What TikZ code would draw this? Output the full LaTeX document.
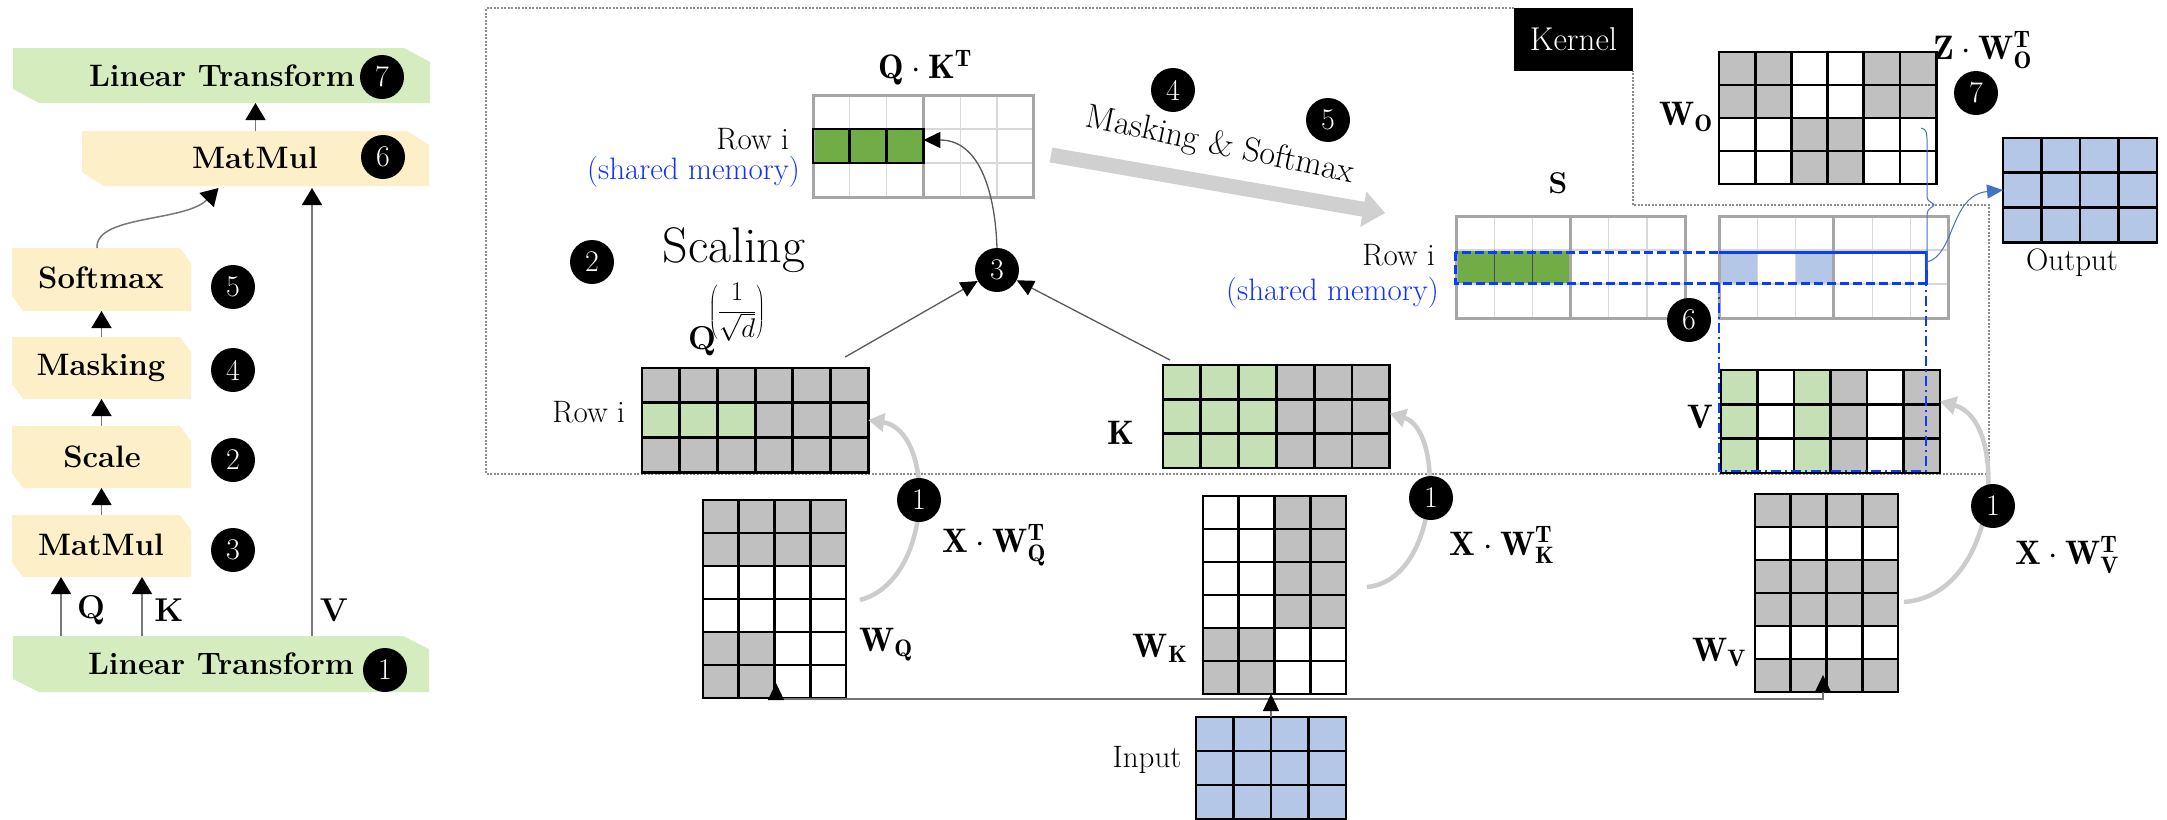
\RequirePackage{fix-cm}
\documentclass[tikz,border=0pt]{standalone}
\usepackage{fontspec}
\usetikzlibrary{arrows.meta,calc}

\definecolor{ltgreenbox}{RGB}{213,236,191}
\definecolor{creambox}{RGB}{253,239,200}
\definecolor{cG}{RGB}{192,192,192}
\definecolor{cW}{RGB}{255,255,255}
\definecolor{cL}{RGB}{197,224,180}
\definecolor{cD}{RGB}{112,173,71}
\definecolor{cB}{RGB}{180,199,231}
\definecolor{gridlight}{RGB}{217,217,217}
\definecolor{gridmid}{RGB}{166,166,166}
\definecolor{memblue}{RGB}{20,50,255}
\definecolor{dashblue}{RGB}{10,60,255}
\definecolor{linkblue}{RGB}{68,114,196}
\definecolor{bandgray}{RGB}{208,208,208}
\definecolor{arcgray}{RGB}{204,204,204}
\definecolor{kerngray}{RGB}{140,140,140}
\definecolor{flowgray}{RGB}{120,120,120}

% chamfered label box: name, x1, y1, x2, y2, fill, chamfer x, chamfer y
\newcommand{\chambox}[8]{%
  \fill[#6] (#2,#3) -- ({#4-#7},#3) -- (#4,{#3+#8}) -- (#4,#5) -- ({#2+#7},#5) -- (#2,{#5-#8}) -- cycle;
  \node[inner sep=0pt, outer sep=0pt, minimum width={(#4-#2)*1pt}, minimum height={(#5-#3)*1pt}]
    (#1) at ({(#2+#4)/2},{(#3+#5)/2}) {};
}

% cell grid: name, x0, y0, cell w, cell h, cols, rows, line style, cell colours row by row
\newcommand{\matgrid}[9]{%
  \node[inner sep=0pt, outer sep=0pt, anchor=north west,
        minimum width={#4*#6*1pt}, minimum height={#5*#7*1pt}] (#1) at (#2,#3) {};
  \foreach \rw [count=\ri] in {#9} {%
    \foreach \cl [count=\ci] in \rw {%
      \fill[\cl] ({#2+(\ci-1)*#4},{#3+(\ri-1)*#5}) rectangle ++(#4,#5);
    }%
  }%
  \foreach \k in {0,...,#6} \draw[#8] ({#2+\k*#4},#3) -- ++(0,{#7*#5});
  \foreach \k in {0,...,#7} \draw[#8] (#2,{#3+\k*#5}) -- ++({#6*#4},0);
}

\tikzset{
  txt/.style={font=\fontsize{31}{36}\selectfont, inner sep=0pt},
  btxt/.style={font=\fontsize{31}{36}\selectfont\bfseries, inner sep=0pt},
  mlab/.style={font=\fontsize{34}{40}\selectfont, inner sep=0pt},
  num/.style={circle, fill=black, text=white, minimum size=44pt, inner sep=0pt,
              font=\fontsize{30}{30}\selectfont},
  mline/.style={draw=black, line width=2.8pt, line cap=rect},
  lgrid/.style={draw=gridlight, line width=1.2pt},
  mgrid/.style={draw=gridmid, line width=3pt},
  flow/.style={draw=flowgray, line width=1.5pt, -{Triangle[length=17pt,width=20pt,color=black]}},
  conn/.style={draw=black!65, line width=1.3pt, -{Triangle[length=17pt,width=16pt,color=black]}},
  kern/.style={draw=kerngray, line width=1.3pt, dash pattern=on 2pt off 1.5pt},
  arc/.style={draw=arcgray, line width=4.5pt, -{Triangle[length=16pt,width=18pt]}},
}

\begin{document}
\begin{tikzpicture}[x=1pt,y=-1pt]
\useasboundingbox (0,0) rectangle (2167,819);
\fill[white] (0,0) rectangle (2167,819);

% ---------------- operator pipeline ----------------
\chambox{lt7}{13}{48}{430}{103}{ltgreenbox}{26}{14}
\chambox{mm6}{82}{131}{429}{186}{creambox}{22}{14}
\chambox{sm}{12}{248}{191}{311}{creambox}{11}{15}
\chambox{mk}{12}{337}{191}{399}{creambox}{11}{15}
\chambox{sc}{12}{426}{191}{488}{creambox}{11}{15}
\chambox{mm3}{12}{515}{191}{577}{creambox}{11}{15}
\chambox{lt1}{13}{636}{429}{692}{ltgreenbox}{26}{13}

\node[btxt] at (222,76) {Linear Transform};
\node[num] at (382,77) {7};
\node[btxt] at (255,158) {MatMul};
\node[num] at (383,157) {6};
\node[btxt] at (101,278) {Softmax};
\node[num] at (233,287) {5};
\node[btxt] at (101,368) {Masking};
\node[num] at (233,370) {4};
\node[btxt] at (102,457) {Scale};
\node[num] at (233,460) {2};
\node[btxt] at (101,545) {MatMul};
\node[num] at (233,550) {3};
\node[btxt] at (221,664) {Linear Transform};
\node[num] at (385,670) {1};

\draw[flow] (mm6.north) -- (mm6.north |- lt7.south);
\draw[flow] (sm.north -| 97,0) .. controls (95,215) and (185,222) .. ($(mm6.south)+(-37,2)$);
\draw[flow] (mk.north) -- (sm.south);
\draw[flow] (sc.north) -- (mk.south);
\draw[flow] (mm3.north) -- (sc.south);
\coordinate (qin) at ($(mm3.south)+(-40.5,0)$);
\coordinate (kin) at ($(mm3.south)+(40.5,0)$);
\coordinate (vin) at ($(mm6.south)+(56.5,2)$);
\draw[flow] (qin |- lt1.north) -- (qin);
\draw[flow] (kin |- lt1.north) -- (kin);
\draw[flow] (vin |- lt1.north) -- (vin);
\node[btxt, font=\fontsize{33}{38}\selectfont\bfseries] at (91,610) {Q};
\node[btxt, font=\fontsize{33}{38}\selectfont\bfseries] at (169,610) {K};
\node[btxt, font=\fontsize{33}{38}\selectfont\bfseries] at (334,610) {V};

% ---------------- kernel region ----------------
\draw[kern] (1514,8) -- (486,8) -- (486,474) -- (1989,474) -- (1989,205) -- (1633,205) -- (1633,71);
\node[fill=black, text=white, minimum width=119pt, minimum height=63pt, inner sep=0pt,
      font=\fontsize{33}{38}\selectfont] (kernel) at (1573.5,39.5) {Kernel};

% Q . K^T tile
\matgrid{qk}{813}{95}{36.8}{34}{6}{3}{lgrid}{{cW,cW,cW,cW,cW,cW},{cD,cD,cD,cW,cW,cW},{cW,cW,cW,cW,cW,cW}}
\draw[mgrid] (qk.north west) rectangle (qk.south east);
\draw[mgrid] (qk.north) -- (qk.south);
\draw[mline] (813,129) rectangle (923.4,163);
\draw[mline] (849.8,129) -- (849.8,163);
\draw[mline] (886.6,129) -- (886.6,163);
\coordinate (qkend) at (923.4,140);
\node[mlab] at (925,68) {$\mathbf{Q}\cdot\mathbf{K}^{\mathbf{T}}$};
\node[txt, anchor=east] at (789,139) {Row i};
\node[txt, anchor=east, text=memblue] at (800,172) {(shared memory)};

% scaled Q
\node[num] at (592,262) {2};
\node[font=\fontsize{50}{56}\selectfont, inner sep=0pt] at (734,250) {Scaling};
\node[font=\fontsize{33}{38}\selectfont\bfseries, inner sep=0pt] at (702,341) {Q};
\node[font=\fontsize{27}{34}\selectfont, inner sep=0pt] at (737,312) {$\left({\displaystyle\frac{1}{\sqrt{d}}}\right)$};

\matgrid{qm}{642}{368}{37.7}{34.7}{6}{3}{mline}{{cG,cG,cG,cG,cG,cG},{cL,cL,cL,cG,cG,cG},{cG,cG,cG,cG,cG,cG}}
\node[txt, anchor=east] at (625,412) {Row i};

\matgrid{km}{1163}{365}{37.8}{34.3}{6}{3}{mline}{{cL,cL,cL,cG,cG,cG},{cL,cL,cL,cG,cG,cG},{cL,cL,cL,cG,cG,cG}}
\node[mlab] at (1121,433) {$\mathbf{K}$};

% step 3: Q K^T
\node[num] (c3) at (997,270) {3};
\coordinate (qtap) at ($(qm.north east)+(-23,-11)$);
\coordinate (ktap) at ($(km.north west)+(7,-5)$);
\draw[conn] (qtap) -- (c3);
\draw[conn] (ktap) -- (c3);
\draw[conn] (c3.north) to[out=92,in=0,looseness=1.1] (qkend);

% masking & softmax band
\begin{scope}[shift={(1051,155)}, rotate=-9.85]
  \fill[bandgray] (0,-7.5) -- (317,-7.5) -- (317,-18) -- (339,0) -- (317,18) -- (317,7.5) -- (0,7.5) -- cycle;
\end{scope}
\node[font=\fontsize{34}{40}\selectfont, inner sep=0pt, rotate=-12] at (1220,146) {Masking \& Softmax};
\node[num] at (1173,90) {4};
\node[num] at (1328,120) {5};

% S tile
\node[font=\fontsize{30}{34}\selectfont\bfseries, inner sep=0pt] at (1558,183) {S};
\matgrid{sa}{1456}{216}{38.2}{34}{6}{3}{lgrid}{{cW,cW,cW,cW,cW,cW},{cD,cD,cD,cW,cW,cW},{cW,cW,cW,cW,cW,cW}}
\draw[mgrid] (sa.north west) rectangle (sa.south east);
\draw[mgrid] (sa.north) -- (sa.south);
\draw[black!70, line width=0.8pt] (1494.2,250) -- (1494.2,284) (1532.4,250) -- (1532.4,284);
\matgrid{sb}{1719}{216}{38.3}{34}{6}{3}{lgrid}{{cW,cW,cW,cW,cW,cW},{cB,cW,cB,cW,cW,cW},{cW,cW,cW,cW,cW,cW}}
\draw[mgrid] (sb.north west) rectangle (sb.south east);
\draw[mgrid] (sb.north) -- (sb.south);
\node[txt, anchor=east] at (1435,255) {Row i};
\node[txt, anchor=east, text=memblue] at (1439,293) {(shared memory)};

% V tile
\matgrid{vm}{1721}{370}{36.5}{34.3}{6}{3}{mline}{{cL,cW,cL,cG,cW,cG},{cL,cW,cL,cG,cW,cG},{cL,cW,cL,cG,cW,cG}}
\node[mlab] at (1700,417) {$\mathbf{V}$};

% step 6 highlight
\draw[dashblue, line width=3pt, dash pattern=on 9pt off 4pt] (1455,252) rectangle (1926,283);
\draw[dashblue, line width=3pt] (1719,252) -- (1926,252) -- (1926,283);
\draw[dashblue, line width=2.5pt, dash pattern=on 10pt off 4pt on 2pt off 4pt]
  (1719,283) -- (1719,471) -- (1926,471) -- (1926,283);
\node[num] at (1689,320) {6};

% W_O and output projection
\matgrid{wo}{1719}{52}{36.2}{33}{6}{4}{mline}{{cG,cG,cW,cW,cG,cG},{cG,cG,cW,cW,cG,cG},{cW,cW,cG,cG,cW,cW},{cW,cW,cG,cG,cW,cW}}
\node[mlab] at (1686,117) {$\mathbf{W}_{\mathbf{O}}$};
\node[mlab, anchor=west] at (1933,50) {$\mathbf{Z}\cdot\mathbf{W}_{\mathbf{O}}^{\mathbf{T}}$};
\node[num] at (1976,93) {7};

\matgrid{outm}{2003}{138}{38.5}{34.7}{4}{3}{mline}{{cB,cB,cB,cB},{cB,cB,cB,cB},{cB,cB,cB,cB}}
\node[txt] at (2072,263) {Output};

\coordinate (wotap) at ($(wo.south east)+(-15,-56)$);
\coordinate (rowtap) at (1927,270);
\draw[linkblue, line width=1pt] (wotap) .. controls (1927,129) and (1927,134) .. (1927,142)
  -- (1927,197) .. controls (1927,202) and (1934,203) .. (1934,205)
  .. controls (1934,207) and (1927,208) .. (1927,214) -- (rowtap);
\draw[linkblue, line width=1pt, -{Triangle[length=16pt,width=14pt]}]
  (1927,262) .. controls (1955,255) and (1950,195) .. (outm.west);

% ---------------- projections ----------------
\matgrid{wq}{703}{500}{35.75}{33}{4}{6}{mline}{{cG,cG,cG,cG},{cG,cG,cG,cG},{cW,cW,cW,cW},{cW,cW,cW,cW},{cG,cG,cW,cW},{cG,cG,cW,cW}}
\matgrid{wk}{1203}{496}{35.75}{33}{4}{6}{mline}{{cW,cW,cG,cG},{cW,cW,cG,cG},{cW,cW,cG,cG},{cW,cW,cG,cG},{cG,cG,cW,cW},{cG,cG,cW,cW}}
\matgrid{wv}{1755}{494}{35.75}{33}{4}{6}{mline}{{cG,cG,cG,cG},{cW,cW,cW,cW},{cG,cG,cG,cG},{cG,cG,cG,cG},{cW,cW,cW,cW},{cG,cG,cG,cG}}
\matgrid{inp}{1196}{717}{37.5}{34}{4}{3}{mline}{{cB,cB,cB,cB},{cB,cB,cB,cB},{cB,cB,cB,cB}}

\node[mlab] at (886,645) {$\mathbf{W}_{\mathbf{Q}}$};
\node[mlab] at (1160,648) {$\mathbf{W}_{\mathbf{K}}$};
\node[mlab] at (1719,652) {$\mathbf{W}_{\mathbf{V}}$};
\node[txt] at (1147,760) {Input};

% input fan-out
\coordinate (split) at (1271,699);
\coordinate (qfoot) at ($(wq.south)+(1.5,-15)$);
\coordinate (vfoot) at ($(wv.south)+(-3.5,-17)$);
\draw[conn, draw=black!55, line width=1.2pt] (split) -| (qfoot);
\draw[conn, draw=black!55, line width=1.2pt] (split) -| (vfoot);
\draw[conn, draw=black!55, line width=1.2pt] (inp.north) -- (inp.north |- wk.south);

% step 1 arcs
\draw[arc] ($(wq.east)+(14,1)$) .. controls (935,580) and (935,430) .. (qm.east);
\draw[arc] ($(wk.east)+(21,-8)$) .. controls (1440,580) and (1445,430) .. ($(km.east)+(0,-3)$);
\draw[arc] ($(wv.east)+(6,9)$) .. controls (2000,595) and (2010,420) .. ($(vm.east)+(0,-20)$);
\node[num] at (919,500) {1};
\node[num] at (1431,498) {1};
\node[num] at (1993,506) {1};

\node[mlab] at (994,545) {$\mathbf{X}\cdot\mathbf{W}_{\mathbf{Q}}^{\mathbf{T}}$};
\node[mlab] at (1502,545) {$\mathbf{X}\cdot\mathbf{W}_{\mathbf{K}}^{\mathbf{T}}$};
\node[mlab] at (2067,555) {$\mathbf{X}\cdot\mathbf{W}_{\mathbf{V}}^{\mathbf{T}}$};

\end{tikzpicture}
\end{document}
